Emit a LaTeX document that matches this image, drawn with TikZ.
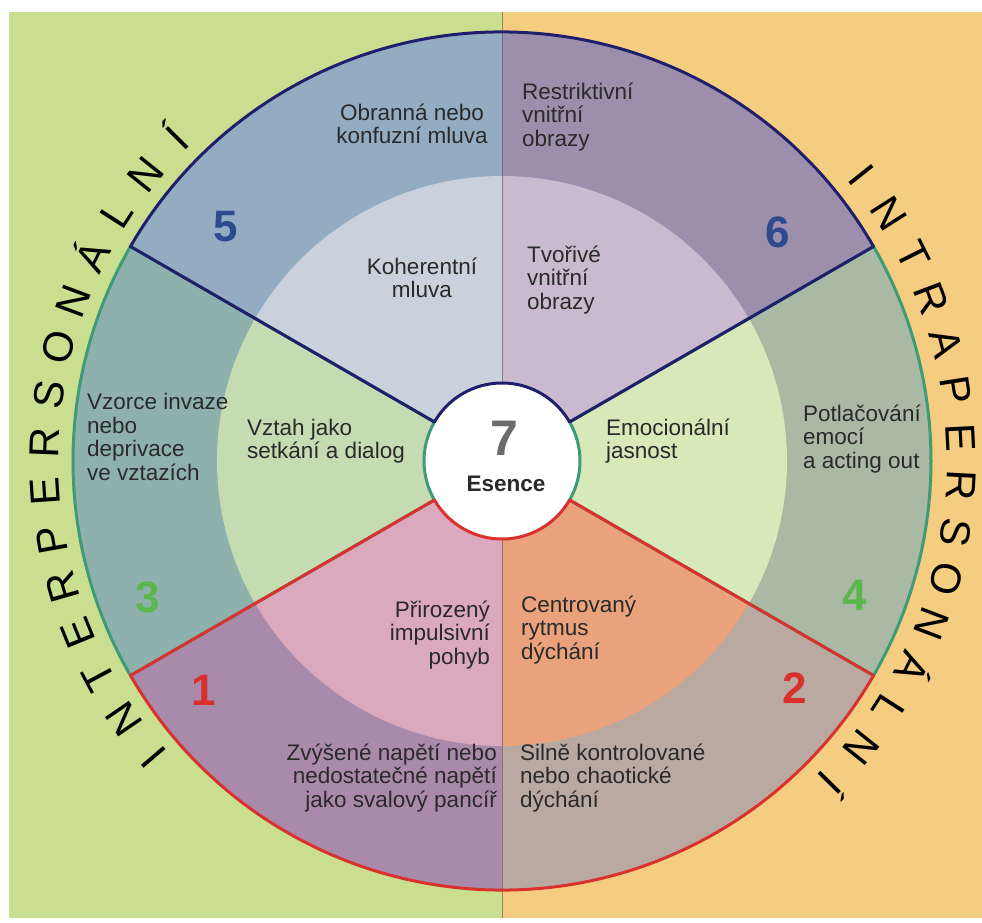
\documentclass[tikz,border=0pt]{standalone}
\usepackage{fontspec}
\setmainfont{Liberation Sans}
\definecolor{bggreen}{HTML}{C9DF8F}
\definecolor{bgorange}{HTML}{F5CD80}
\definecolor{sfiveo}{HTML}{93ACC2}
\definecolor{sfivei}{HTML}{C9D1DC}
\definecolor{ssixo}{HTML}{9C8FAC}
\definecolor{ssixi}{HTML}{C9BAD0}
\definecolor{sthreeo}{HTML}{8FB1AD}
\definecolor{sthreei}{HTML}{C5DBB2}
\definecolor{sfouro}{HTML}{A9B9A4}
\definecolor{sfouri}{HTML}{D7E8B9}
\definecolor{soneo}{HTML}{AA8AAB}
\definecolor{sonei}{HTML}{DBA9BD}
\definecolor{stwoo}{HTML}{BAA9A1}
\definecolor{stwoi}{HTML}{E9A27C}
\definecolor{bdnavy}{HTML}{1F1F6B}
\definecolor{bdred}{HTML}{D9322E}
\definecolor{bdgreen}{HTML}{3F9A77}
\definecolor{numblue}{HTML}{2E4A8E}
\definecolor{numgreen}{HTML}{5BB74B}
\definecolor{numred}{HTML}{D9302C}
\definecolor{txt}{HTML}{2A2A2A}
\begin{document}
\begin{tikzpicture}[x=1pt,y=1pt,
  body/.style={inner sep=0pt, text=txt, font=\fontsize{22.5}{23.5}\selectfont},
  lbody/.style={body, align=left, anchor=west},
  rbody/.style={body, align=right, anchor=east},
  cbody/.style={body, align=center},
  num/.style={inner sep=0pt, font=\fontsize{44}{44}\selectfont\bfseries},
  arcletter/.style={inner sep=0pt, anchor=base, text=black, font=\fontsize{42}{42}\selectfont},
  border/.style={line width=3pt, line join=round}
]
\useasboundingbox (0,0) rectangle (982,922);
\fill[white] (0,0) rectangle (982,922);
\fill[bggreen] (9,4) rectangle (502,910);
\fill[bgorange] (502,4) rectangle (982,910);

\begin{scope}[shift={(502,461)}]
  % outer wedges
  \foreach \a/\b/\c in {90/150/sfiveo, 30/90/ssixo, 150/210/sthreeo, -30/30/sfouro, 210/270/soneo, 270/330/stwoo}
    \fill[\c] (0,0) -- (\a:429) arc[start angle=\a, end angle=\b, radius=429] -- cycle;
  % inner wedges
  \foreach \a/\b/\c in {90/150/sfivei, 30/90/ssixi, 150/210/sthreei, -30/30/sfouri, 210/270/sonei, 270/330/stwoi}
    \fill[\c] (0,0) -- (\a:285) arc[start angle=\a, end angle=\b, radius=285] -- cycle;
\end{scope}
% vertical divider
\draw[gray!70!black, line width=0.8pt, opacity=0.6] (502,4) -- (502,910);
\begin{scope}[shift={(502,461)}]
  \fill[white] (0,0) circle[radius=78];
  % borders
  \draw[border, bdgreen] (150:78) -- (150:429) arc[start angle=150, end angle=210, radius=429] -- (210:78) arc[start angle=210, end angle=150, radius=78] -- cycle;
  \draw[border, bdgreen] (-30:78) -- (-30:429) arc[start angle=-30, end angle=30, radius=429] -- (30:78) arc[start angle=30, end angle=-30, radius=78] -- cycle;
  \draw[border, bdnavy] (30:78) -- (30:429) arc[start angle=30, end angle=150, radius=429] -- (150:78) arc[start angle=150, end angle=30, radius=78] -- cycle;
  \draw[border, bdred] (210:78) -- (210:429) arc[start angle=210, end angle=330, radius=429] -- (330:78) arc[start angle=330, end angle=210, radius=78] -- cycle;

  % curved labels
  \foreach \l [count=\i from 0] in {I,N,T,E,R,P,E,R,S,O,N,Á,L,N,Í}
    \node[arcletter, rotate={220.4-6.09*\i-90}] (L\i) at ({220.4-6.09*\i}:443) {\l};
  \foreach \l [count=\i from 0] in {I,N,T,R,A,P,E,R,S,O,N,Á,L,N,Í}
    \node[arcletter, rotate={38.5-5.93*\i-90}] (R\i) at ({38.5-5.93*\i}:445) {\l};
\end{scope}

% texts
\node[cbody] (t5o) at (412,798) {Obranná nebo\\konfuzní mluva};
\node[lbody] (t6o) at (522,805) {Restriktivní\\vnitřní\\obrazy};
\node[cbody] (t5i) at (422,644) {Koherentní\\mluva};
\node[lbody] (t6i) at (527,642) {Tvořivé\\vnitřní\\obrazy};
\node[lbody] (t3o) at (87,485) {Vzorce invaze\\nebo\\deprivace\\ve vztazích};
\node[lbody] (t3i) at (247,481) {Vztah jako\\setkání a dialog};
\node[lbody] (t4i) at (606,481) {Emocionální\\jasnost};
\node[lbody] (t4o) at (803,483) {Potlačování\\emocí\\a acting out};
\node[rbody] (t1i) at (490,287) {Přirozený\\impulsivní\\pohyb};
\node[lbody] (t2i) at (521,292) {Centrovaný\\rytmus\\dýchání};
\node[rbody] (t1o) at (497,144) {Zvýšené napětí nebo\\nedostatečné napětí\\jako svalový pancíř};
\node[lbody] (t2o) at (520,144) {Silně kontrolované\\nebo chaotické\\dýchání};

% numbers
\node[num, text=numblue] (n5) at (226,695) {5};
\node[num, text=numblue] (n6) at (778,690) {6};
\node[num, text=numgreen] (n3) at (148,325) {3};
\node[num, text=numgreen] (n4) at (855,327) {4};
\node[num, text=numred] (n1) at (204,232) {1};
\node[num, text=numred] (n2) at (795,234) {2};
\node[inner sep=0pt, text=gray!85!black, font=\fontsize{50}{50}\selectfont\bfseries] (n7) at (504,484) {7};
\node[inner sep=0pt, text=txt, font=\fontsize{22.5}{22.5}\selectfont\bfseries] (es) at (506,438) {Esence};
\end{tikzpicture}
\end{document}
